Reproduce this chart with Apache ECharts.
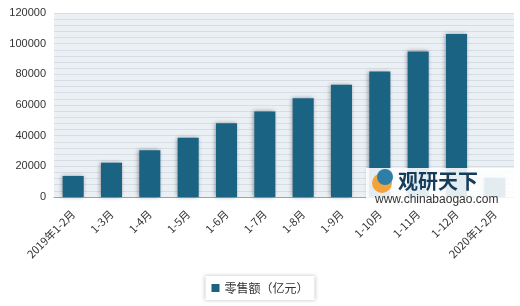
<!DOCTYPE html>
<html><head><meta charset="utf-8">
<script src="https://cdn.jsdelivr.net/npm/echarts@6/dist/echarts.min.js"></script>
<style>html,body{margin:0;padding:0;background:#fff}#c{width:520px;height:306px}</style>
</head><body><div id="c"></div>
<script>
const categories = ['2019年1-2月','1-3月','1-4月','1-5月','1-6月','1-7月','1-8月','1-9月','1-10月','1-11月','1-12月','2020年1-2月'];
const seriesName = '零售额（亿元）';
const values = [13712, 22379, 30439, 38641, 48161, 55829, 64326, 73238, 81814, 94958, 106324, 12476];
const yTicks = [0, 20000, 40000, 60000, 80000, 100000, 120000];

const chart = echarts.init(document.getElementById('c'));
chart.setOption({
  animation: false,
  grid: {left: 54, right: 6, top: 13, bottom: 109, containLabel: false, show: true, backgroundColor: '#ebf0f5', borderWidth: 0},
  xAxis: {
    type: 'category', data: categories,
    axisLine: {show: true, lineStyle: {color: '#9aa3ab', width: 1}},
    axisTick: {show: false},
    axisLabel: {rotate: 45, color: '#333', fontSize: 11, fontFamily: 'Noto Sans CJK SC', interval: 0, margin: 15}
  },
  yAxis: {
    type: 'value', min: yTicks[0], max: yTicks[yTicks.length-1], interval: 20000,
    axisLine: {show: false}, axisTick: {show: false},
    axisLabel: {color: '#333', fontSize: 11, fontFamily: 'Liberation Sans', margin: 8, formatter: v => String(v)},
    splitLine: {show: true, lineStyle: {color: '#d6dde4', width: 1}},
    minorTick: {show: false, splitNumber: 5},
    minorSplitLine: {show: true, lineStyle: {color: '#d6dde4', width: 1}}
  },
  legend: {
    bottom: 6, left: 'center', itemWidth: 8, itemHeight: 8, itemGap: 4,
    icon: 'rect', padding: [6, 6, 6, 6],
    backgroundColor: '#fff', shadowBlur: 4, shadowColor: 'rgba(0,0,0,0.25)',
    textStyle: {color: '#333', fontSize: 12, fontFamily: 'Noto Sans CJK SC'}
  },
  series: [{
    name: seriesName, type: 'bar', data: values, barWidth: '55%',
    itemStyle: {color: '#1b6383', shadowBlur: 4, shadowColor: 'rgba(0,0,0,0.35)', shadowOffsetX: -1}
  }],
  graphic: [
    {type: 'rect', left: 366, top: 168, shape: {width: 150, height: 36}, style: {fill: 'rgba(255,255,255,0.88)'}, z: 99},
    {type: 'circle', left: 372, top: 173, shape: {r: 10}, style: {fill: '#f2a33a'}, z: 100},
    {type: 'circle', left: 377, top: 169, shape: {r: 8}, style: {fill: '#2d7fa8'}, z: 101},
    {type: 'text', left: 398, top: 171, style: {text: '观研天下', fill: '#163c5c', font: 'bold 20px "Noto Sans CJK SC"'}, z: 100},
    {type: 'text', left: 375, top: 194, style: {text: 'www.chinabaogao.com', fill: '#333', font: '12px "Liberation Sans"'}, z: 100}
  ]
});
</script></body></html>
